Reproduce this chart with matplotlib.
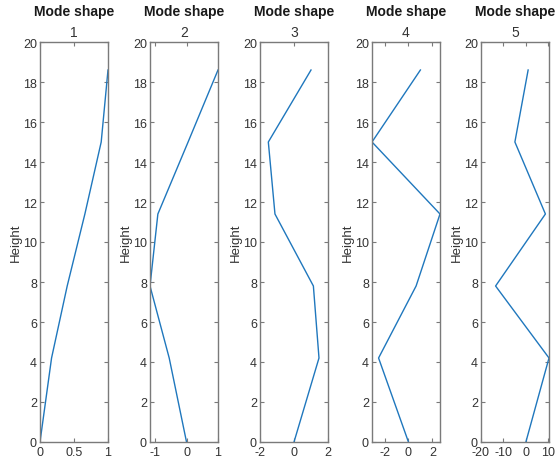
import matplotlib
matplotlib.use("Agg")
import matplotlib.pyplot as plt

plt.rcParams['font.family'] = ['Liberation Sans', 'DejaVu Sans']
plt.rcParams['axes.unicode_minus'] = False

# floor heights and mode shape values
heights = [0, 4.2, 7.8, 11.4, 15.0, 18.6]
mode1 = [0, 0.17, 0.40, 0.66, 0.90, 1.0]
mode2 = [0, -0.55, -1.16, -0.91, 0.05, 1.0]
mode3 = [0, 1.47, 1.14, -1.12, -1.51, 1.0]
mode4 = [0, -2.5, 0.64, 2.64, -3.05, 1.0]
mode5 = [0, 10.3, -13.5, 8.7, -4.9, 1.0]
modes = [mode1, mode2, mode3, mode4, mode5]

xlims = [(0, 1), (-1.16, 1), (-2, 2), (-3.05, 2.64), (-20, 10.3)]
xticks = [[0, 0.5, 1], [-1, 0, 1], [-2, 0, 2], [-2, 0, 2], [-20, -10, 0, 10]]
xticklabels = [['0', '0.5', '1'], ['-1', '0', '1'], ['-2', '0', '2'],
               ['-2', '0', '2'], ['-20', '-10', '0', '10']]

W, H = 557, 464
lefts = [40, 150, 260, 372, 481]
ax_w = 68
ax_top, ax_bot = 43, 443

spine_col = '#7a7a7a'
text_col = '#333333'
line_col = '#1f77bd'

fig = plt.figure(figsize=(W / 100, H / 100), dpi=100)

for i, (vals, lft) in enumerate(zip(modes, lefts)):
    ax = fig.add_axes([lft / W, (H - ax_bot) / H, ax_w / W, (ax_bot - ax_top) / H])
    ax.plot(vals, heights, color=line_col, lw=1.0)
    ax.set_xlim(*xlims[i])
    ax.set_ylim(0, 20)
    ax.set_yticks(range(0, 21, 2))
    ax.set_xticks(xticks[i])
    ax.set_xticklabels(xticklabels[i])
    ax.tick_params(direction='in', length=3, width=0.8, color=spine_col,
                   labelcolor=text_col, labelsize=9, top=True, right=True, pad=3)
    ax.tick_params(axis='y', pad=2.2)
    for s in ax.spines.values():
        s.set_color(spine_col)
        s.set_linewidth(1.0)
    ax.set_ylabel('Height', fontsize=9.5, color=text_col, labelpad=1)
    cx = (lft + ax_w / 2) / W
    fig.text(cx, 1 - 12 / H, 'Mode shape', ha='center', va='center',
             fontsize=10, fontweight='bold', color='#1a1a1a')
    fig.text(cx, 1 - 33 / H, str(i + 1), ha='center', va='center',
             fontsize=10, color=text_col)

fig.savefig('out.png', dpi=100)
